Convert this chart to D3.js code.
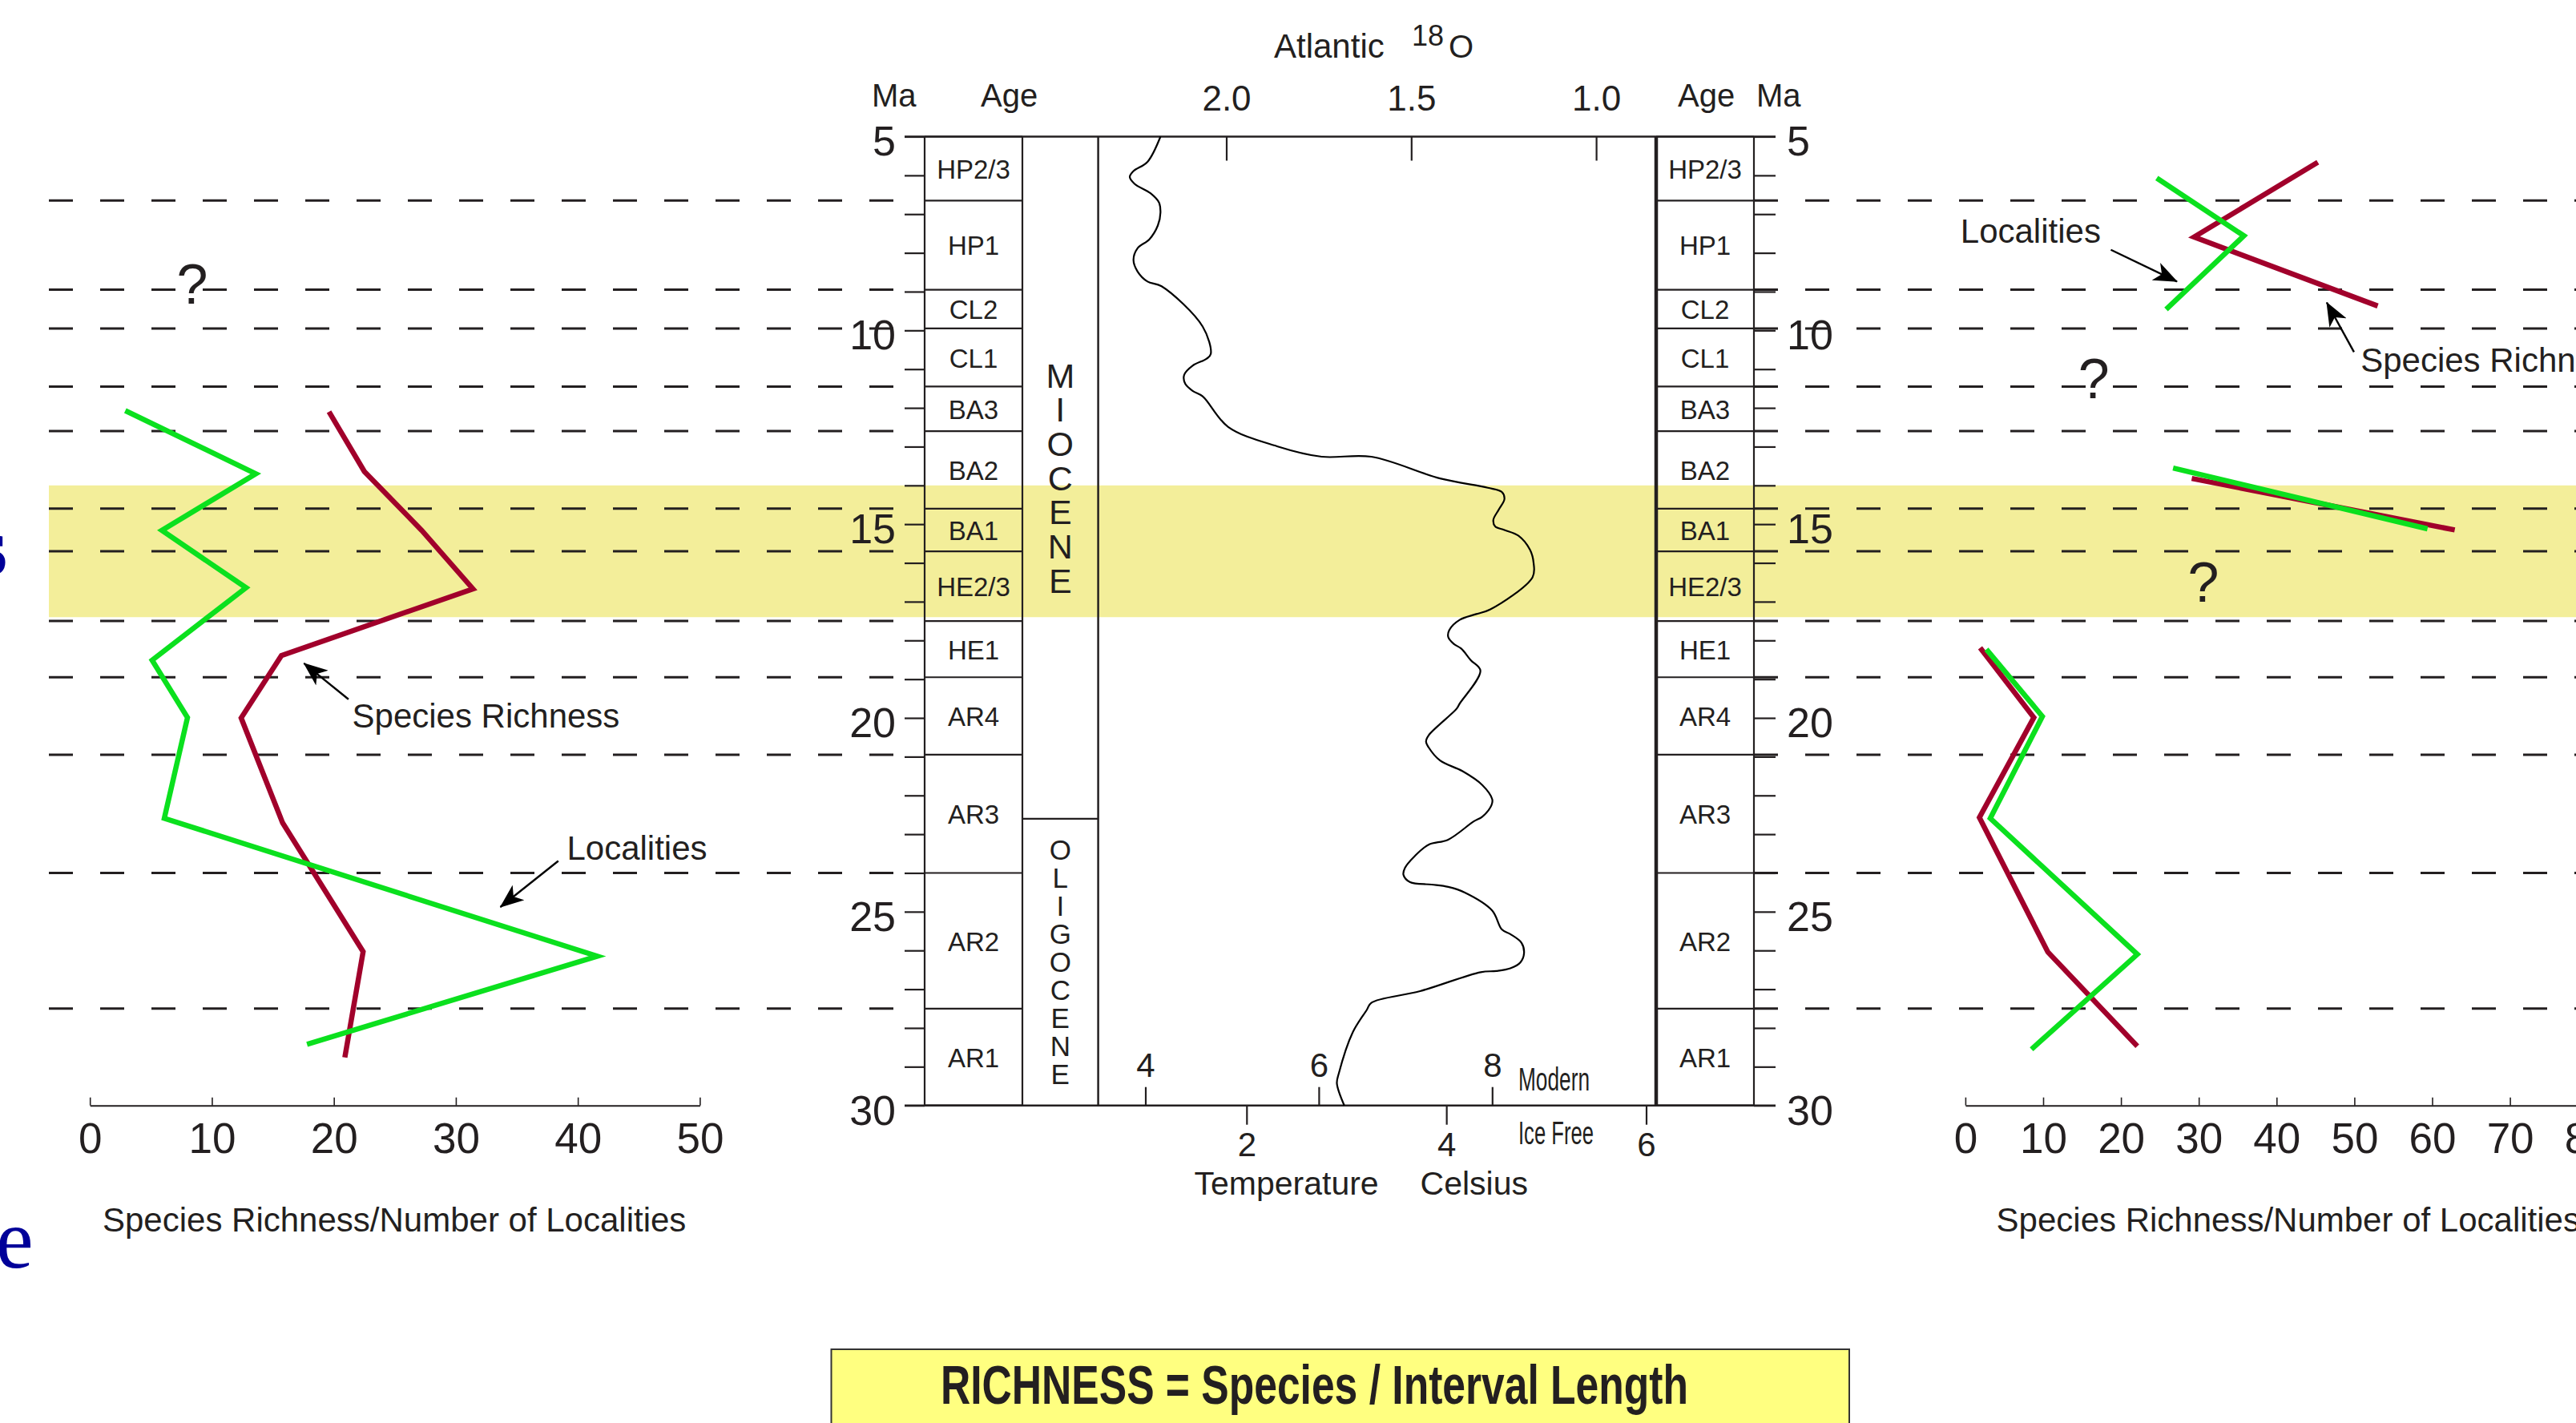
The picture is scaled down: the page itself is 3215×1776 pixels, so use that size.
<!DOCTYPE html>
<html>
<head>
<meta charset="utf-8">
<script src="https://cdn.jsdelivr.net/npm/d3@7"></script>
<style>
  body { margin: 0; background: #fff; }
  svg { display: block; }
</style>
</head>
<body>
<div id="chart"></div>
<script>
// ---- Data -------------------------------------------------------------
// Land mammal age boundaries (Ma) and their names
const ageBounds = [5, 6.65, 8.95, 9.95, 11.45, 12.6, 14.6, 15.7, 17.5, 18.95, 20.95, 24.0, 27.5, 30];
const ageNames = ["HP2/3", "HP1", "CL2", "CL1", "BA3", "BA2", "BA1", "HE2/3", "HE1", "AR4", "AR3", "AR2", "AR1"];
const epochBounds = [5, 22.6, 30];
const epochNames = ["MIOCENE", "OLIGOCENE"];
const warmBand = [14.0, 17.4];
const maTicks = d3.range(5, 31);

// Atlantic 18O curve
const o18Age = [5.0, 5.65, 5.89, 6.04, 6.22, 6.46, 6.70, 6.96, 7.29, 7.65,
  7.88, 8.18, 8.48, 8.74, 8.86, 9.90, 10.61, 10.73, 10.91, 11.15,
  11.38, 11.56, 11.70, 12.49, 12.99, 13.26, 13.26, 13.82, 14.06, 14.17,
  14.35, 14.62, 14.89, 15.06, 15.15, 15.30, 15.66, 16.01, 16.37, 17.20,
  17.32, 17.47, 17.73, 17.91, 18.09, 18.21, 18.51, 18.78, 19.63, 19.76,
  20.45, 20.61, 20.76, 21.10, 21.37, 21.73, 22.10, 22.25, 22.55, 22.67,
  23.14, 23.27, 23.57, 23.87, 24.05, 24.24, 24.30, 24.36, 24.51, 24.97,
  25.46, 25.58, 25.80, 26.07, 26.31, 26.46, 26.53, 26.56, 27.05, 27.35,
  27.53, 28.11, 29.18, 29.43, 30.0];
const o18Value = [2.178, 2.213, 2.251, 2.261, 2.248, 2.205, 2.182, 2.178, 2.185, 2.208,
  2.240, 2.251, 2.240, 2.213, 2.175, 2.064, 2.042, 2.053, 2.091, 2.114,
  2.111, 2.091, 2.064, 1.995, 1.863, 1.742, 1.608, 1.422, 1.293, 1.255,
  1.248, 1.263, 1.278, 1.273, 1.248, 1.210, 1.179, 1.169, 1.172, 1.286,
  1.324, 1.369, 1.397, 1.400, 1.385, 1.365, 1.339, 1.313, 1.369, 1.377,
  1.453, 1.460, 1.453, 1.422, 1.362, 1.308, 1.281, 1.283, 1.308, 1.331,
  1.400, 1.453, 1.491, 1.517, 1.521, 1.503, 1.445, 1.400, 1.354, 1.281,
  1.255, 1.232, 1.202, 1.195, 1.205, 1.232, 1.270, 1.312, 1.476, 1.608,
  1.620, 1.658, 1.696, 1.701, 1.681];
const o18Ticks = [2.0, 1.5, 1.0];
const tempUpperTicks = [4, 6, 8];
const tempLowerTicks = [2, 4, 6];

// Left panel: species richness and number of localities
const leftRichAge = [12.10, 13.64, 15.16, 16.67, 18.39, 20.0, 22.71, 26.03, 28.76];
const leftRich = [19.6, 22.5, 27.2, 31.4, 15.7, 12.4, 15.8, 22.4, 20.9];
const leftLocAge = [12.07, 13.70, 15.16, 16.64, 18.51, 19.99, 22.59, 26.15, 28.42];
const leftLoc = [2.9, 13.6, 5.9, 12.8, 5.1, 8.0, 6.1, 41.6, 17.8];
const leftTicks = [0, 10, 20, 30, 40, 50];

// Right panel (gaps where there is no record)
const rightRichAge = [5.66, 7.59, 9.37, null, 13.82, 15.15, null, 18.19, 19.99, 22.57, 26.04, 28.47];
const rightRich = [45.3, 29.4, 53.0, null, 29.1, 62.9, null, 1.9, 8.8, 1.8, 10.6, 22.1];
const rightLocAge = [6.07, 7.56, 9.46, null, 13.55, 15.12, null, 18.23, 19.96, 22.59, 26.10, 28.55];
const rightLoc = [24.6, 35.8, 25.8, null, 26.7, 59.4, null, 2.7, 9.9, 3.2, 22.1, 8.5];
const rightTicks = [0, 10, 20, 30, 40, 50, 60, 70, 80];

// Annotations in data units: [value, Ma]
const leftNotes = [
  { text: "Species Richness", at: [21.5, 20.25], from: [21.2, 19.52], to: [17.55, 18.59] },
  { text: "Localities", at: [39.1, 23.66], from: [38.4, 23.69], to: [33.65, 24.88] }
];
const rightNotes = [
  { text: "Localities", at: [-0.63, 7.73], from: [18.7, 7.92], to: [27.2, 8.74] },
  { text: "Species Richness", at: [50.8, 11.07], from: [49.95, 10.56], to: [46.45, 9.28] }
];
const leftQuery = [[8.4, 9.31]];
const rightQuery = [[16.5, 11.74], [30.6, 17.0]];

// ---- Setup ------------------------------------------------------------
const W = 3215, H = 1776;
const INK = "#231f20";
const SANS = "'Liberation Sans', Arial, Helvetica, sans-serif";
const NARROW = "'Liberation Sans Narrow', 'Arial Narrow', 'Liberation Sans', sans-serif";
const GREEN = "#0be01e", RED = "#a1002b";

const svg = d3.select("#chart").append("svg")
  .attr("width", W).attr("height", H)
  .style("background", "#fff");

const defs = svg.append("defs");
defs.append("marker")
  .attr("id", "arrow")
  .attr("viewBox", "0 0 30 24")
  .attr("refX", 29).attr("refY", 12)
  .attr("markerWidth", 30).attr("markerHeight", 24)
  .attr("markerUnits", "userSpaceOnUse")
  .attr("orient", "auto")
  .append("path")
  .attr("d", "M0,0 L30,12 L0,24 L8,12 Z")
  .attr("fill", "#000");

// Scales
const yMa = d3.scaleLinear().domain([5, 30]).range([170.5, 1379.7]);
const xO = d3.scaleLinear().domain([2.0, 1.0]).range([1530.5, 1992.1]);
const tUp = d3.scaleLinear().domain([4, 8]).range([1429.5, 1862.3]);
const tLow = d3.scaleLinear().domain([2, 6]).range([1555.8, 2054.5]);
const xL = d3.scaleLinear().domain([0, 50]).range([112.2, 873.4]);
const xR = d3.scaleLinear().domain([0, 80]).range([2452.9, 3229.7]);

// Column layout
const ageL = [1154, 1276], epochCol = [1276, 1370.6], ageR = [2067, 2189];

// ---- Warm band ----------------------------------------------------------
svg.append("rect")
  .attr("x", 61).attr("width", W - 61)
  .attr("y", yMa(warmBand[0]))
  .attr("height", yMa(warmBand[1]) - yMa(warmBand[0]))
  .attr("fill", "#f3ee9a");

// ---- Dashed interval lines ----------------------------------------------
const inner = ageBounds.slice(1, -1);
[[61, 1127], [2189, W]].forEach(([a, b]) => {
  svg.append("g").selectAll("line").data(inner).join("line")
    .attr("x1", a).attr("x2", b)
    .attr("y1", d => yMa(d)).attr("y2", d => yMa(d))
    .attr("stroke", INK).attr("stroke-width", 3)
    .attr("stroke-dasharray", "30,34");
});

// ---- Age columns ----------------------------------------------------------
function ageColumn([x0, x1]) {
  const g = svg.append("g");
  g.selectAll("line").data(ageBounds).join("line")
    .attr("x1", x0).attr("x2", x1)
    .attr("y1", d => yMa(d)).attr("y2", d => yMa(d))
    .attr("stroke", INK).attr("stroke-width", 2.2);
  g.selectAll("text").data(ageNames).join("text")
    .attr("x", (x0 + x1) / 2)
    .attr("y", (d, i) => (yMa(ageBounds[i]) + yMa(ageBounds[i + 1])) / 2)
    .attr("dy", "0.38em")
    .attr("text-anchor", "middle")
    .style("font-family", SANS).style("font-size", "33px")
    .attr("fill", INK)
    .text(d => d);
}
ageColumn(ageL);
ageColumn(ageR);

// ---- Epoch column ---------------------------------------------------------
const epochG = svg.append("g");
epochG.selectAll("line").data(epochBounds.slice(1, -1)).join("line")
  .attr("x1", epochCol[0]).attr("x2", epochCol[1])
  .attr("y1", d => yMa(d)).attr("y2", d => yMa(d))
  .attr("stroke", INK).attr("stroke-width", 2.2);
epochNames.forEach((name, i) => {
  const mid = (yMa(epochBounds[i]) + yMa(epochBounds[i + 1])) / 2;
  const fs = i === 0 ? 43 : 35;
  const step = i === 0 ? 42.7 : 35;
  const letters = name.split("");
  epochG.append("g").selectAll("text").data(letters).join("text")
    .attr("x", (epochCol[0] + epochCol[1]) / 2)
    .attr("y", (d, j) => mid + (j - (letters.length - 1) / 2) * step)
    .attr("dy", "0.36em")
    .attr("text-anchor", "middle")
    .style("font-family", SANS).style("font-size", fs + "px")
    .attr("fill", INK)
    .text(d => d);
});

// ---- Frame lines ----------------------------------------------------------
const frame = svg.append("g").attr("stroke", INK);
[yMa(5), yMa(30)].forEach(y => {
  frame.append("line").attr("x1", 1129).attr("x2", 2216)
    .attr("y1", y).attr("y2", y).attr("stroke-width", 2.5);
});
[[ageL[0], 2.2], [ageL[1], 2.2], [epochCol[1], 2.5], [ageR[0], 4.5], [ageR[1], 2.2]].forEach(([x, w]) => {
  frame.append("line").attr("x1", x).attr("x2", x)
    .attr("y1", yMa(5)).attr("y2", yMa(30)).attr("stroke-width", w);
});

// ---- Ma axes ----------------------------------------------------------------
function styleAxis(g, font, size) {
  g.selectAll(".tick line").attr("stroke", INK).attr("stroke-width", 2.2);
  g.selectAll(".tick text").attr("fill", INK)
    .style("font-family", font).style("font-size", size + "px");
  g.select(".domain").attr("stroke", INK).attr("stroke-width", 2);
}
const maFmt = d => (d % 5 === 0 ? d : "");
const maLeft = svg.append("g").attr("transform", `translate(${ageL[0]},0)`)
  .call(d3.axisLeft(yMa).tickValues(maTicks).tickSize(25).tickPadding(11).tickFormat(maFmt));
maLeft.select(".domain").remove();
styleAxis(maLeft, NARROW, 52);
maLeft.selectAll(".tick text").attr("dy", "0.45em");

const maRight = svg.append("g").attr("transform", `translate(${ageR[1]},0)`)
  .call(d3.axisRight(yMa).tickValues(maTicks).tickSize(27).tickPadding(14).tickFormat(maFmt));
maRight.select(".domain").remove();
styleAxis(maRight, NARROW, 52);
maRight.selectAll(".tick text").attr("dy", "0.45em");

// ---- 18O curve and its axes -------------------------------------------------
const o18 = o18Age.map((a, i) => ({ age: a, v: o18Value[i] }));
svg.append("path")
  .datum(o18)
  .attr("d", d3.line().x(d => xO(d.v)).y(d => yMa(d.age)).curve(d3.curveCatmullRom.alpha(0.5)))
  .attr("fill", "none").attr("stroke", "#000").attr("stroke-width", 2.2);

const oAxis = svg.append("g").attr("transform", `translate(0,${yMa(5)})`)
  .call(d3.axisTop(xO).tickValues(o18Ticks).tickSizeInner(-30).tickSizeOuter(0)
    .tickPadding(33).tickFormat(d3.format(".1f")));
oAxis.select(".domain").remove();
styleAxis(oAxis, NARROW, 44);

const upAxis = svg.append("g").attr("transform", `translate(0,${yMa(30)})`)
  .call(d3.axisTop(tUp).tickValues(tempUpperTicks).tickSize(23).tickPadding(13)
    .tickFormat(d3.format("d")));
upAxis.select(".domain").remove();
styleAxis(upAxis, SANS, 42);

const lowAxis = svg.append("g").attr("transform", `translate(0,${yMa(30)})`)
  .call(d3.axisBottom(tLow).tickValues(tempLowerTicks).tickSize(24).tickPadding(9)
    .tickFormat(d3.format("d")));
lowAxis.select(".domain").remove();
styleAxis(lowAxis, SANS, 42);

const label = (x, y, txt, size, opts = {}) => svg.append("text")
  .attr("x", x).attr("y", y)
  .attr("text-anchor", opts.anchor || "start")
  .attr("fill", opts.fill || INK)
  .style("font-family", opts.font || SANS)
  .style("font-size", size + "px")
  .style("font-weight", opts.weight || "normal")
  .attr("textLength", opts.len || null)
  .attr("lengthAdjust", opts.len ? "spacingAndGlyphs" : null)
  .text(txt);

label(1895, 1361, "Modern", 41, { font: NARROW, len: 89 });
label(1895, 1428, "Ice Free", 41, { font: NARROW, len: 94 });
label(1490.5, 1491, "Temperature", 41);
label(1772.6, 1491, "Celsius", 41);

// Title and headers
label(1590, 72, "Atlantic", 42);
label(1762, 57, "18", 36);
label(1808, 72, "O", 40);
label(1088, 133, "Ma", 40);
label(1224, 133, "Age", 40);
label(2094, 133, "Age", 40);
label(2192, 133, "Ma", 40);

// ---- Richness panels --------------------------------------------------------
function richnessPanel(x, ticks, series, notes, queries) {
  const ax = svg.append("g").attr("transform", `translate(0,${yMa(30)})`)
    .call(d3.axisBottom(x).tickValues(ticks).tickSizeInner(-10).tickSizeOuter(0).tickPadding(22));
  styleAxis(ax, NARROW, 53);
  ax.selectAll(".tick line").attr("stroke-width", 1.6);

  const line = d3.line()
    .defined(d => d.v !== null)
    .x(d => x(d.v)).y(d => yMa(d.age));
  series.forEach(s => {
    const pts = s.age.map((a, i) => ({ age: a, v: s.vals[i] }));
    svg.append("path").datum(pts)
      .attr("d", line)
      .attr("fill", "none").attr("stroke", s.color)
      .attr("stroke-width", 6.5).attr("stroke-linejoin", "miter");
  });

  notes.forEach(n => {
    label(x(n.at[0]), yMa(n.at[1]), n.text, 42);
    svg.append("line")
      .attr("x1", x(n.from[0])).attr("y1", yMa(n.from[1]))
      .attr("x2", x(n.to[0])).attr("y2", yMa(n.to[1]))
      .attr("stroke", "#000").attr("stroke-width", 2.4)
      .attr("marker-end", "url(#arrow)");
  });

  queries.forEach(q => label(x(q[0]), yMa(q[1]), "?", 70, { font: NARROW, anchor: "middle" }));
}

richnessPanel(xL, leftTicks, [
  { age: leftRichAge, vals: leftRich, color: RED },
  { age: leftLocAge, vals: leftLoc, color: GREEN }
], leftNotes, leftQuery);

richnessPanel(xR, rightTicks, [
  { age: rightRichAge, vals: rightRich, color: RED },
  { age: rightLocAge, vals: rightLoc, color: GREEN }
], rightNotes, rightQuery);

label(128, 1537, "Species Richness/Number of Localities", 42);
label(2491.6, 1537, "Species Richness/Number of Localities", 42);

// ---- Formula box ------------------------------------------------------------
svg.append("rect")
  .attr("x", 1037.5).attr("y", 1684)
  .attr("width", 2308 - 1037.5).attr("height", 120)
  .attr("fill", "#ffff80").attr("stroke", "#333").attr("stroke-width", 2);
label(1640.5, 1752, "RICHNESS = Species / Interval Length", 68,
  { font: NARROW, weight: "bold", anchor: "middle", len: 933 });

// ---- Fragments of slide text cut by the left edge -------------------------
label(-31, 717, "s", 103, { font: "'Liberation Serif', 'Times New Roman', serif", weight: "bold", fill: "#000099" });
label(-5, 1582, "e", 105, { font: "'Liberation Serif', 'Times New Roman', serif", fill: "#000099" });
</script>
</body>
</html>
